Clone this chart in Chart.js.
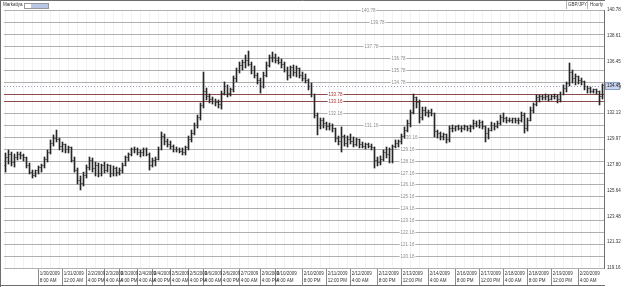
<!DOCTYPE html>
<html>
<head>
<meta charset="utf-8">
<script src="https://cdn.jsdelivr.net/npm/chart.js@4.4.1/dist/chart.umd.min.js"></script>
<style>
html, body { margin: 0; padding: 0; background: #fff; }
#wrap { position: relative; width: 625px; height: 287px; overflow: hidden; font-family: "Liberation Sans", Arial, sans-serif; }
#chart { position: absolute; left: 0; top: 0; }
.hdr { position: absolute; top: 1px; height: 8px; line-height: 8px; font-size: 4.5px; color: #333; }
.sep { position: absolute; top: 1px; width: 1px; height: 8px; background: #b5b5b5; }
#box { position: absolute; left: 24px; top: 3px; width: 23px; height: 4px; border: 1px solid #9a9a9a; background: #fff; }
#box div { position: absolute; left: 6px; top: 0; width: 17px; height: 4px; background: #b9c6e4; }
</style>
</head>
<body>
<div id="wrap">
  <canvas id="chart" width="625" height="287"></canvas>
  <div class="hdr" style="left:3px">Markatiya</div>
  <div id="box"><div></div></div>
  <div class="sep" style="left:566px"></div>
  <div class="hdr" style="left:568px">GBP/JPY</div>
  <div class="sep" style="left:587px"></div>
  <div class="hdr" style="left:590px">Hourly</div>
</div>
<script>
const FONT = '"Liberation Sans", Arial, sans-serif';

// GBP/JPY hourly bars (OHLC)
const openPrices = [
  127.79,128.38,128.63,128.04,128.46,128.71,128.55,128.38,127.71,127.20,
  126.95,127.29,127.54,127.71,128.29,128.88,129.63,130.05,129.89,129.30,
  129.47,129.05,129.22,128.21,127.37,126.53,126.20,126.95,127.54,128.21,
  127.46,127.79,127.04,127.71,127.37,127.71,127.12,127.46,127.20,127.37,
  127.79,128.38,128.63,129.05,129.13,128.80,128.88,129.05,128.71,127.79,
  128.13,128.29,129.13,130.22,129.72,129.55,129.30,129.13,129.05,128.96,
  128.80,129.22,129.97,130.47,131.14,131.73,132.74,133.91,133.57,133.32,
  133.15,132.99,132.82,133.82,134.41,133.82,134.08,135.00,135.67,136.09,
  136.34,136.59,136.25,135.75,135.33,134.91,134.41,135.33,136.17,136.84,
  136.76,136.59,136.42,136.25,135.75,135.25,135.92,135.58,135.84,135.33,
  135.08,134.91,134.41,133.66,131.98,131.14,131.48,131.23,130.98,131.14,
  130.81,130.05,129.80,130.14,129.63,129.97,129.80,129.55,129.89,129.47,
  129.38,129.47,129.30,129.22,128.21,128.04,128.29,128.80,128.63,129.05,
  129.30,129.63,129.72,130.22,130.72,131.31,132.15,133.41,132.99,131.73,
  132.40,132.15,132.23,132.07,130.64,130.39,130.14,130.31,129.89,130.81,
  130.89,130.98,130.81,130.89,130.98,130.81,130.98,131.31,131.14,131.39,
  130.98,130.47,130.72,131.14,130.98,131.31,131.81,131.65,131.56,131.48,
  131.65,131.48,131.56,131.98,130.89,131.56,132.40,132.82,133.41,133.49,
  133.41,133.57,133.32,133.49,133.57,133.24,133.74,134.24,134.58,135.58,
  135.00,135.17,134.91,134.75,134.33,134.16,133.99,134.08,133.91,133.49
];
const highPrices = [
  128.80,129.05,128.88,128.71,128.88,128.88,128.71,128.46,127.96,127.37,
  127.37,127.71,127.87,128.46,129.05,129.89,130.31,130.72,130.05,129.72,
  129.55,129.38,129.30,128.46,127.54,126.87,127.20,127.79,128.46,128.38,
  128.04,127.96,127.87,128.04,127.87,127.79,127.71,127.62,127.54,127.96,
  128.55,128.80,129.22,129.30,129.22,129.05,129.22,129.22,128.80,128.38,
  128.46,129.30,130.56,130.39,129.97,129.80,129.47,129.30,129.22,129.22,
  129.38,130.22,130.72,131.31,131.98,132.99,135.58,134.24,133.74,133.49,
  133.32,133.24,133.99,134.75,134.50,134.24,135.25,135.92,136.42,136.59,
  137.01,137.34,136.42,136.09,135.50,135.08,135.58,136.42,137.01,137.26,
  137.09,136.84,136.67,136.42,136.00,136.09,136.17,136.09,135.92,135.58,
  135.42,135.00,134.66,133.74,132.15,131.73,131.73,131.39,131.31,131.23,
  130.89,130.22,130.98,130.31,130.22,130.39,130.14,130.05,129.97,129.72,
  129.63,129.63,129.55,129.30,128.46,128.55,129.05,129.30,129.22,129.47,
  129.89,129.89,130.39,130.98,131.56,132.40,133.74,133.49,133.24,132.65,
  132.65,132.40,132.48,132.15,130.72,130.56,130.47,130.39,131.06,131.14,
  131.06,131.14,131.06,131.14,131.06,131.14,131.56,131.48,131.56,131.48,
  131.06,130.89,131.39,131.31,131.48,131.98,132.15,131.81,131.73,131.73,
  131.73,131.73,132.23,132.15,131.73,132.65,132.99,133.66,133.66,133.66,
  133.74,133.66,133.66,133.74,133.66,133.91,134.50,134.75,136.34,135.75,
  135.42,135.25,135.08,134.83,134.41,134.33,134.16,134.16,133.99,134.58
];
const lowPrices = [
  127.20,127.87,127.71,127.62,128.21,128.29,128.13,127.54,127.04,126.70,
  126.79,127.04,127.20,127.54,128.04,128.71,129.38,129.72,129.05,128.88,
  128.80,128.80,128.04,127.20,126.20,125.70,126.03,126.70,127.37,127.20,
  126.87,126.79,126.87,127.12,127.20,126.79,126.87,126.87,126.95,127.12,
  127.71,128.13,128.55,128.80,128.63,128.46,128.55,128.55,127.37,127.62,
  127.71,128.21,129.05,129.47,129.30,129.13,128.88,128.88,128.80,128.63,
  128.63,129.05,129.72,130.31,130.89,131.56,132.57,133.24,132.99,132.90,
  132.74,132.57,132.48,133.66,133.49,133.57,133.91,134.75,135.50,135.75,
  135.92,136.09,135.42,135.08,134.58,133.82,134.24,135.17,136.00,136.42,
  136.34,136.25,135.92,135.58,134.91,135.08,135.25,135.17,135.08,134.83,
  134.66,134.08,133.49,131.73,130.31,130.81,130.89,130.72,130.72,130.56,
  129.72,129.47,128.88,129.38,129.30,129.55,129.30,129.38,129.22,129.22,
  129.13,129.22,129.05,127.54,127.71,127.79,128.13,128.38,127.96,127.96,
  129.22,129.30,129.55,130.05,130.56,130.98,132.07,132.57,131.31,131.56,
  131.90,131.81,131.90,130.14,130.05,129.89,129.89,129.63,129.72,130.56,
  130.64,130.72,130.56,130.72,130.64,130.56,130.81,130.98,130.89,130.81,
  129.72,129.97,130.64,130.72,130.89,131.14,131.39,131.31,131.39,131.31,
  131.31,131.23,131.39,130.47,130.64,131.48,132.15,132.74,133.07,133.24,
  133.24,133.15,133.24,133.32,132.99,133.07,133.66,133.91,134.41,134.66,
  134.50,134.58,134.50,134.08,133.82,133.82,133.82,133.74,132.82,133.32
];
const closePrices = [
  128.38,128.63,128.04,128.46,128.71,128.55,128.38,127.71,127.20,126.95,
  127.29,127.54,127.71,128.29,128.88,129.63,130.05,129.89,129.30,129.47,
  129.05,129.22,128.21,127.37,126.53,126.20,126.95,127.54,128.21,127.46,
  127.79,127.04,127.71,127.37,127.71,127.12,127.46,127.20,127.37,127.79,
  128.38,128.63,129.05,129.13,128.80,128.88,129.05,128.71,127.79,128.13,
  128.29,129.13,130.22,129.72,129.55,129.30,129.13,129.05,128.96,128.80,
  129.22,129.97,130.47,131.14,131.73,132.74,133.91,133.57,133.32,133.15,
  132.99,132.82,133.82,134.41,133.82,134.08,135.00,135.67,136.09,136.34,
  136.59,136.25,135.75,135.33,134.91,134.41,135.33,136.17,136.84,136.76,
  136.59,136.42,136.25,135.75,135.25,135.92,135.58,135.84,135.33,135.08,
  134.91,134.41,133.66,131.98,131.14,131.48,131.23,130.98,131.14,130.81,
  130.05,129.80,130.14,129.63,129.97,129.80,129.55,129.89,129.47,129.38,
  129.47,129.30,129.22,128.21,128.04,128.29,128.80,128.63,129.05,129.30,
  129.63,129.72,130.22,130.72,131.31,132.15,133.41,132.99,131.73,132.40,
  132.15,132.23,132.07,130.64,130.39,130.14,130.31,129.89,130.81,130.89,
  130.98,130.81,130.89,130.98,130.81,130.98,131.31,131.14,131.39,130.98,
  130.47,130.72,131.14,130.98,131.31,131.81,131.65,131.56,131.48,131.65,
  131.48,131.56,131.98,130.89,131.56,132.40,132.82,133.41,133.49,133.41,
  133.57,133.32,133.49,133.57,133.24,133.74,134.24,134.58,135.58,135.00,
  135.17,134.91,134.75,134.33,134.16,133.99,134.08,133.91,133.49,134.45
];

// x-axis labels: bar index + text
const xTickBars = [11, 19, 27, 33, 38, 44, 49, 55, 61, 66, 72, 78, 85, 90, 99, 107, 115, 124, 132, 141, 150, 158, 166, 174, 182, 191];
const xTickDates = ['1/30/2009','1/31/2009','2/2/2009','2/3/2009','2/3/2009','2/4/2009','2/4/2009','2/5/2009','2/5/2009',
  '2/6/2009','2/6/2009','2/7/2009','2/9/2009','2/10/2009','2/10/2009','2/11/2009','2/12/2009','2/12/2009','2/13/2009',
  '2/14/2009','2/16/2009','2/17/2009','2/18/2009','2/18/2009','2/19/2009','2/20/2009'];
const xTickTimes = ['8:00 AM','12:00 AM','4:00 PM','4:00 AM','4:00 PM','4:00 AM','4:00 PM','4:00 AM','4:00 PM',
  '4:00 AM','4:00 PM','4:00 AM','4:00 PM','4:00 AM','8:00 PM','12:00 PM','4:00 AM','8:00 PM','12:00 PM',
  '4:00 AM','8:00 PM','12:00 PM','4:00 AM','8:00 PM','12:00 PM','4:00 AM'];

// right price axis
const yMin = 119.16;
const yMax = 140.78;
const yTicks = [140.78, 138.61, 136.45, 134.29, 132.13, 129.97, 127.80, 125.64, 123.48, 121.32, 119.16];

// horizontal level lines drawn on the chart and the bar where their label sits (-1 = no label)
const levels = [140.78, 139.78, 138.78, 137.78, 136.78, 135.78, 134.78, 133.78, 133.16, 132.16, 131.16, 130.16,
  129.16, 128.16, 127.16, 126.16, 125.16, 124.16, 123.16, 122.16, 121.16, 120.16, 119.16];
const levelLabelBar = [121, 124, -1, 122, 131, 131, 131, 110, 110, 110, 122, 135,
  134, 134, 134, 134, 134, 134, 134, 134, 134, 134, -1];
const redLevels = [133.78, 133.16];

const barLabels = openPrices.map((_, i) => {
  const k = xTickBars.indexOf(i);
  return k >= 0 ? [' ' + xTickDates[k], ' ' + xTickTimes[k]] : '';
});

const levelPlugin = {
  id: 'levels',
  beforeDatasetsDraw(chart) {
    const { ctx, chartArea: a, scales: { x: xs, y: ys } } = chart;
    ctx.save();
    ctx.lineWidth = 1;
    levels.forEach(v => {
      const y = Math.round(ys.getPixelForValue(v)) + 0.5;
      ctx.strokeStyle = redLevels.includes(v) ? '#8e4b4b' : '#b0b0b0';
      ctx.beginPath();
      ctx.moveTo(a.left, y);
      ctx.lineTo(a.right, y);
      ctx.stroke();
    });
    ctx.font = '4.5px ' + FONT;
    ctx.textAlign = 'center';
    ctx.textBaseline = 'middle';
    levels.forEach((v, k) => {
      if (levelLabelBar[k] < 0) return;
      const y = Math.round(ys.getPixelForValue(v)) + 0.5;
      const x = xs.getPixelForValue(levelLabelBar[k]);
      const t = v.toFixed(2);
      const w = ctx.measureText(t).width;
      ctx.fillStyle = '#fff';
      ctx.fillRect(x - w / 2 - 1, y - 2.5, w + 2, 5);
      ctx.fillStyle = redLevels.includes(v) ? '#a12e2e' : '#8a8a8a';
      ctx.fillText(t, x, y);
    });
    ctx.restore();
  },
  afterDatasetsDraw(chart) {
    const { ctx, chartArea: a, scales: { x: xs, y: ys } } = chart;
    ctx.save();
    // open / close ticks
    ctx.fillStyle = '#6a6a6a';
    openPrices.forEach((o, i) => {
      const x = xs.getPixelForValue(i);
      ctx.fillRect(x - 1.5, Math.floor(ys.getPixelForValue(o)), 1, 1);
      ctx.fillRect(x + 0.5, Math.floor(ys.getPixelForValue(closePrices[i])), 1, 1);
    });
    // current price dotted line
    const last = closePrices[closePrices.length - 1];
    const yl = Math.round(ys.getPixelForValue(last)) + 0.5;
    ctx.strokeStyle = '#9aa3bd';
    ctx.setLineDash([1, 2]);
    ctx.beginPath();
    ctx.moveTo(a.left, yl);
    ctx.lineTo(a.right, yl);
    ctx.stroke();
    ctx.restore();
  },
  afterDraw(chart) {
    const { ctx, chartArea: a, scales: { y: ys } } = chart;
    ctx.save();
    // outer frame
    ctx.strokeStyle = '#6e6e6e';
    ctx.lineWidth = 1;
    ctx.beginPath();
    ctx.moveTo(0.5, 0);
    ctx.lineTo(0.5, 287);
    ctx.moveTo(0, 0.5);
    ctx.lineTo(a.right + 1, 0.5);
    ctx.moveTo(0, 285.5);
    ctx.lineTo(a.right + 1, 285.5);
    ctx.stroke();
    // last price box on the axis
    const last = closePrices[closePrices.length - 1];
    const yl = Math.round(ys.getPixelForValue(last));
    ctx.fillStyle = '#c7d4ee';
    ctx.strokeStyle = '#8ea0c8';
    ctx.fillRect(a.right + 1.5, yl - 3.5, 14, 7);
    ctx.strokeRect(a.right + 1.5, yl - 3.5, 14, 7);
    ctx.fillStyle = '#222';
    ctx.font = '4.5px ' + FONT;
    ctx.textBaseline = 'middle';
    ctx.fillText(last.toFixed(2), a.right + 3, yl);
    ctx.restore();
  }
};

new Chart(document.getElementById('chart'), {
  type: 'bar',
  data: {
    labels: barLabels,
    datasets: [{
      data: highPrices.map((h, i) => [lowPrices[i], h]),
      backgroundColor: '#262626',
      borderWidth: 0,
      barThickness: 1,
      grouped: false
    }]
  },
  options: {
    responsive: false,
    animation: false,
    devicePixelRatio: 1,
    layout: { padding: { left: 4, top: 10, right: 0, bottom: 0 } },
    plugins: { legend: { display: false }, tooltip: { enabled: false } },
    scales: {
      x: {
        type: 'category',
        offset: true,
        grid: {
          offset: false,
          color: c => (c.index % 3 === 0 ? '#f2f2f2' : 'rgba(0,0,0,0)'),
          tickColor: c => (xTickBars.includes(c.index) ? '#8c8c8c' : 'rgba(0,0,0,0)'),
          tickLength: 17
        },
        border: { color: '#8c8c8c' },
        ticks: {
          autoSkip: false,
          maxRotation: 0,
          minRotation: 0,
          align: 'start',
          padding: -15,
          color: '#333',
          font: { size: 4.5, family: FONT, lineHeight: 1.55 }
        },
        afterFit: s => { s.height = 19; }
      },
      y: {
        position: 'right',
        min: yMin,
        max: yMax,
        afterBuildTicks: s => { s.ticks = yTicks.map(v => ({ value: v })); },
        grid: { display: false, drawTicks: false, tickLength: 0 },
        border: { color: '#6e6e6e' },
        ticks: {
          padding: 3,
          color: '#333',
          font: { size: 4.5, family: FONT },
          callback: v => v.toFixed(2)
        },
        afterFit: s => { s.width = 21; }
      }
    }
  },
  plugins: [levelPlugin]
});
</script>
</body>
</html>
